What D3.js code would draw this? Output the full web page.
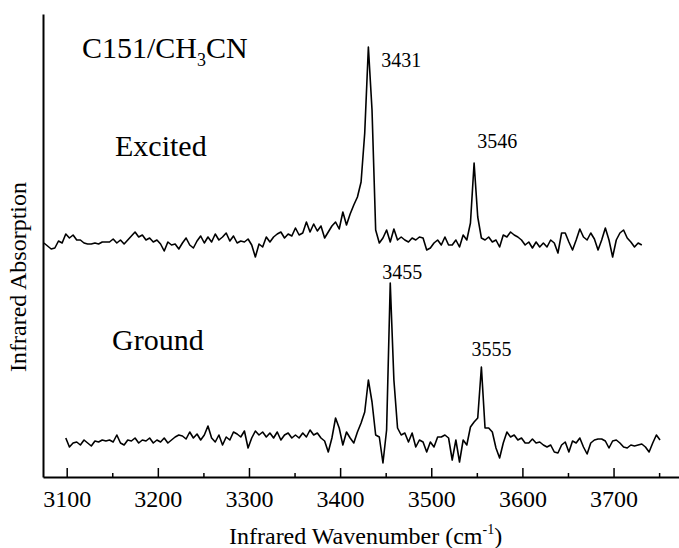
<!DOCTYPE html>
<html>
<head>
<meta charset="utf-8">
<script src="https://cdn.jsdelivr.net/npm/d3@7"></script>
<style>
  body { margin: 0; background: #ffffff; }
  svg text { font-family: "Liberation Serif", "Times New Roman", serif; fill: #000; }
</style>
</head>
<body>
<div id="chart"></div>
<script>
// spectra sampled every 4 cm-1, values relative to each trace's own baseline (a.u.)
var excitedStart = 3075;
var groundStart = 3099;
var stepCm = 4;

var excitedValues = [
  -1, -4, -7, -6, 1, -1, 8, 4, 7, 2, 2, -1, -2, -2, -1, -2, 0, 0, 0, 3,
  -1, 2, -2, 2, 6, 10, 5, 7, 2, 4, 0, 2, -2, -9, 0, -3, -2, -7, -1, 4,
  -3, -6, 1, 6, -1, 5, 0, 8, 2, 5, 9, 1, 6, -1, 1, 0, 3, -3, -15, -2,
  -5, 5, 0, 5, 8, 10, 4, 8, 6, 14, 7, 9, 20, 10, 18, 11, 16, 4, 10, 16,
  20, 13, 30, 17, 28, 37, 45, 60, 109, 195, 132, 12, -1, 4, 12, 0, 13, 2, 5, 2,
  0, 4, 2, 5, 4, -8, -6, -1, 2, -3, 5, -3, -3, 2, -5, 7, 2, 19, 79, 25,
  4, 2, 5, 0, 2, -5, 7, 5, 10, 7, 5, 2, -3, 0, -6, 0, -5, -1, -5, 2,
  -1, -11, 9, 9, 0, -8, 2, 13, 5, 2, 9, 3, -8, 2, 14, 2, -15, 2, 9, 12,
  4, 0, -5, -1, -3
];

var groundValues = [
  2, -7, -3, -2, -5, 0, -3, -6, -1, -2, 0, -1, 0, -2, 5, -3, -5, 0, -1, 2,
  -3, 0, -1, 2, -3, 0, -2, 2, -3, 0, 3, 5, 4, 1, 8, 2, 6, 0, 5, 14,
  2, -2, 5, -5, 3, 0, 8, 6, 3, 9, -8, 2, 9, 5, 8, 3, 7, 2, 8, 0,
  5, 7, 2, 5, 2, 7, 3, 10, 5, 7, 2, -1, -12, 2, 22, 12, -5, 8, 2, -3,
  8, 17, 28, 60, 38, 5, 3, -23, 10, 157, 60, 12, 5, 7, -2, 7, -7, 0, -2, -12,
  -2, -7, 3, 3, 5, 2, -20, 0, -22, 0, -5, 13, 18, 22, 73, 12, 12, 8, -8, -18,
  -3, 8, 3, 5, 0, 2, -3, -3, 1, -3, -2, -5, -7, -5, -12, -13, -5, -2, -12, -1,
  -3, 2, -7, -14, -3, 0, 1, 1, -1, -8, -1, 0, -3, -7, -8, -5, -6, -5, -4, -7,
  -12, -3, 5, 0
];

// vertical offsets used to stack the two traces
var excitedOffset = 235;
var groundOffset = 37;

var majorTicks = [3100, 3200, 3300, 3400, 3500, 3600, 3700];
var minorTicks = [3150, 3250, 3350, 3450, 3550, 3650, 3750];

// peak labels
var peakLabels = [
  { peak: 3431, text: "3431", trace: "excited" },
  { peak: 3546, text: "3546", trace: "excited" },
  { peak: 3455, text: "3455", trace: "ground" },
  { peak: 3555, text: "3555", trace: "ground" }
];

window.onload = function(){
    drawChart();
};

function drawChart(){

    var svg = d3.select("#chart").append("svg")
        .attr("width", 679)
        .attr("height", 548)
        .attr("font-family", "'Liberation Serif', 'Times New Roman', serif");

    var xScale = d3.scaleLinear()
                   .domain([3074, 3775])
                   .range([43, 681.9]);

    var yScale = d3.scaleLinear()
                   .domain([0, 463])
                   .range([477, 14]);

    var excited = excitedValues.map(function(v, i){
        return { w: excitedStart + i * stepCm, v: v + excitedOffset };
    });
    var ground = groundValues.map(function(v, i){
        return { w: groundStart + i * stepCm, v: v + groundOffset };
    });

    var line = d3.line()
                 .x(function(d){ return xScale(d.w); })
                 .y(function(d){ return yScale(d.v); });

    [excited, ground].forEach(function(series){
        svg.append("path")
            .datum(series)
            .attr("d", line)
            .attr("fill", "none")
            .attr("stroke", "#000")
            .attr("stroke-width", 1.6)
            .attr("stroke-linejoin", "round");
    });

    // x axis, ticks pointing inward
    var xAxis = svg.append("g")
        .attr("class", "axis-x")
        .attr("transform", "translate(0," + yScale(0) + ")")
        .call(d3.axisBottom(xScale)
                .tickValues(majorTicks)
                .tickSizeInner(-9)
                .tickSizeOuter(0)
                .tickPadding(13)
                .tickFormat(d3.format("d")));
    xAxis.attr("font-family", null);
    xAxis.select(".domain").attr("stroke-width", 2);
    xAxis.selectAll(".tick line").attr("stroke-width", 1.5);
    xAxis.selectAll(".tick text").attr("font-size", 24);

    var xMinor = svg.append("g")
        .attr("transform", "translate(0," + yScale(0) + ")")
        .call(d3.axisBottom(xScale)
                .tickValues(minorTicks)
                .tickSizeInner(-4)
                .tickSizeOuter(0)
                .tickFormat(""));
    xMinor.select(".domain").remove();
    xMinor.selectAll(".tick line").attr("stroke-width", 1.5);

    // y axis without ticks
    var yAxis = svg.append("g")
        .attr("class", "axis-y")
        .attr("transform", "translate(" + xScale(3074) + ",0)")
        .call(d3.axisLeft(yScale).tickValues([]).tickSizeOuter(0));
    yAxis.select(".domain").attr("stroke-width", 2);

    // axis titles
    var xTitle = svg.append("text")
        .attr("x", 229)
        .attr("y", 544)
        .attr("font-size", 24);
    xTitle.append("tspan").text("Infrared Wavenumber (cm");
    xTitle.append("tspan").attr("font-size", 14).attr("dy", -10).text("-1");
    xTitle.append("tspan").attr("dy", 10).text(")");

    svg.append("text")
        .attr("transform", "translate(26,277) rotate(-90)")
        .attr("text-anchor", "middle")
        .attr("font-size", 24)
        .text("Infrared Absorption");

    // sample label
    var sample = svg.append("text")
        .attr("x", 82)
        .attr("y", 58)
        .attr("font-size", 30);
    sample.append("tspan").text("C151/CH");
    sample.append("tspan").attr("font-size", 18).attr("dy", 8).text("3");
    sample.append("tspan").attr("dy", -8).text("CN");

    svg.append("text")
        .attr("x", 115)
        .attr("y", 156)
        .attr("font-size", 30)
        .text("Excited");

    svg.append("text")
        .attr("x", 112)
        .attr("y", 350)
        .attr("font-size", 30)
        .text("Ground");

    // peak labels placed from the peak heights
    var offsets = { "3431": [13, 20, "start"], "3546": [24, -15, "middle"],
                    "3455": [12, -4, "middle"], "3555": [10, -11, "middle"] };
    peakLabels.forEach(function(p){
        var vals = p.trace === "excited" ? excited : ground;
        var top = d3.max(vals, function(d){ return Math.abs(d.w - p.peak) <= 3 ? d.v : -Infinity; });
        var o = offsets[p.text];
        svg.append("text")
            .attr("x", xScale(p.peak) + o[0])
            .attr("y", yScale(top) + o[1])
            .attr("text-anchor", o[2])
            .attr("font-size", 20)
            .text(p.text);
    });
}
</script>
</body>
</html>
